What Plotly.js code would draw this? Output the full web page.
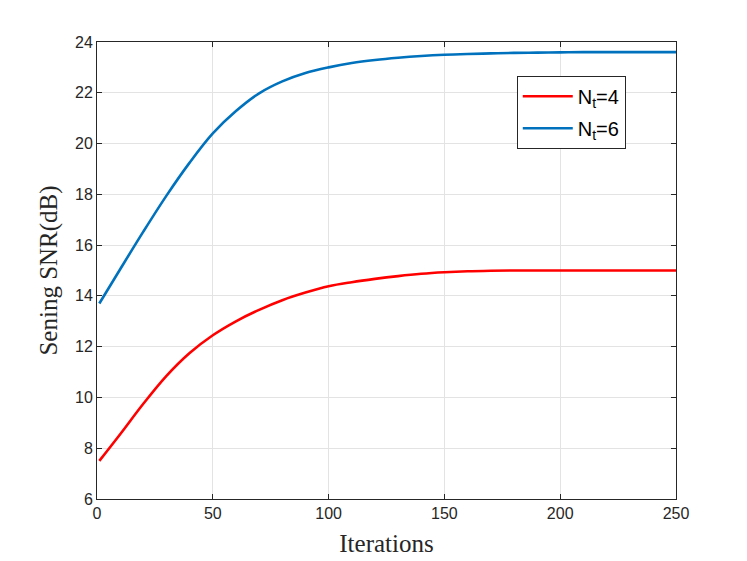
<!DOCTYPE html>
<html>
<head>
<meta charset="utf-8">
<script src="https://cdn.plot.ly/plotly-3.0.1.min.js"></script>
<style>
  html, body { margin: 0; padding: 0; background: #fff; }
  #chart { width: 747px; height: 561px; }
</style>
</head>
<body>
<div id="chart"></div>
<script>
const iterations = [1, 10, 20, 30, 40, 50, 60, 70, 80, 90, 100, 110, 120, 130, 140,
    150, 160, 170, 180, 190, 200, 210, 220, 230, 240, 250];

const snrNt4 = [7.5, 8.55, 9.75, 10.85, 11.75, 12.45, 13.0, 13.45, 13.83, 14.13, 14.38,
    14.54, 14.67, 14.78, 14.87, 14.93, 14.97, 14.99, 15.0, 15.0, 15.0, 15.0, 15.0, 15.0,
    15.0, 15.0];

const snrNt6 = [13.7, 15.05, 16.53, 17.95, 19.25, 20.4, 21.28, 21.98, 22.45, 22.78, 23.0,
    23.17, 23.29, 23.38, 23.45, 23.5, 23.53, 23.55, 23.57, 23.58, 23.59, 23.6, 23.6, 23.6,
    23.6, 23.6];

const nt4Trace = {
    x: iterations,
    y: snrNt4,
    mode: 'lines',
    line: { color: '#ff0000', width: 2.6, shape: 'spline' },
    name: 'N<sub>t</sub>=4',
    legendgroup: 'nt4',
};

const nt6Trace = {
    x: iterations,
    y: snrNt6,
    mode: 'lines',
    line: { color: '#0072bd', width: 2.6, shape: 'spline' },
    name: 'N<sub>t</sub>=6',
    legendgroup: 'nt6',
};

const axisStyle = {
    showline: true,
    mirror: 'ticks',
    linecolor: '#262626',
    linewidth: 1,
    ticks: 'inside',
    ticklen: 5,
    tickcolor: '#262626',
    showgrid: true,
    gridcolor: '#e3e3e3',
    zeroline: false,
    tickfont: { family: 'Liberation Sans, Arial, sans-serif', size: 16, color: '#262626' },
};

const titleFont = { family: 'Liberation Serif, Times New Roman, serif', size: 25, color: '#262626' };

const layout = {
    width: 747,
    height: 561,
    margin: { l: 97, r: 71, t: 42, b: 62 },
    paper_bgcolor: '#ffffff',
    plot_bgcolor: '#ffffff',
    showlegend: true,
    legend: {
        x: 0.725, y: 0.926, xanchor: 'left', yanchor: 'top',
        bgcolor: '#ffffff',
        bordercolor: '#262626',
        borderwidth: 1,
        itemwidth: 50,
        traceorder: 'grouped',
        tracegroupgap: 3,
        font: { family: 'Liberation Sans, Arial, sans-serif', size: 20, color: '#000' },
    },
    xaxis: Object.assign({}, axisStyle, {
        range: [0, 250],
        dtick: 50,
        title: { text: 'Iterations', standoff: 13, font: titleFont },
    }),
    yaxis: Object.assign({}, axisStyle, {
        range: [6, 24],
        dtick: 2,
        title: { text: 'Sening SNR(dB)', standoff: 10, font: titleFont },
    }),
};

Plotly.newPlot('chart', [nt4Trace, nt6Trace], layout, { displayModeBar: false, staticPlot: true });
</script>
</body>
</html>
